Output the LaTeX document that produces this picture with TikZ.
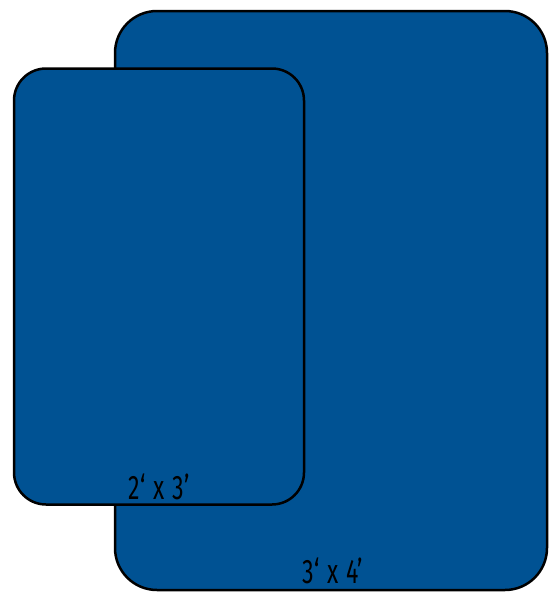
\documentclass[tikz,border=0pt]{standalone}
\usepackage{fontspec}
\usepackage{tikz}
\usetikzlibrary{positioning}
\newfontfamily\sizefont[FakeStretch=0.68,WordSpace=1.3]{Fira Sans}
\definecolor{MatBlue}{RGB}{0,82,147}
\tikzset{
  matbox/.style={draw=black,line width=2.5pt,fill=MatBlue,rounded corners=36pt,inner sep=0pt},
  sizelabel/.style={anchor=base,inner sep=0pt,font=\sizefont\fontsize{34}{34}\selectfont}
}

\begin{document}
\begin{tikzpicture}[x=1pt,y=-1pt]

\useasboundingbox (0,0) rectangle (549,592);

% large mat
\node[matbox,rounded corners=42pt,minimum width=432pt,minimum height=579pt] (big) at (331,300.5) {};
% small mat
\node[matbox,rounded corners=32pt,minimum width=290pt,minimum height=436pt] (small) at (159,286.5) {};

\node[sizelabel] (smalllabel) at ([yshift=6.5pt]small.south) {2‘ x 3’};
\node[sizelabel] (biglabel) at ([xshift=2pt,yshift=8pt]big.south) {3‘ x 4’};

\end{tikzpicture}
\end{document}
